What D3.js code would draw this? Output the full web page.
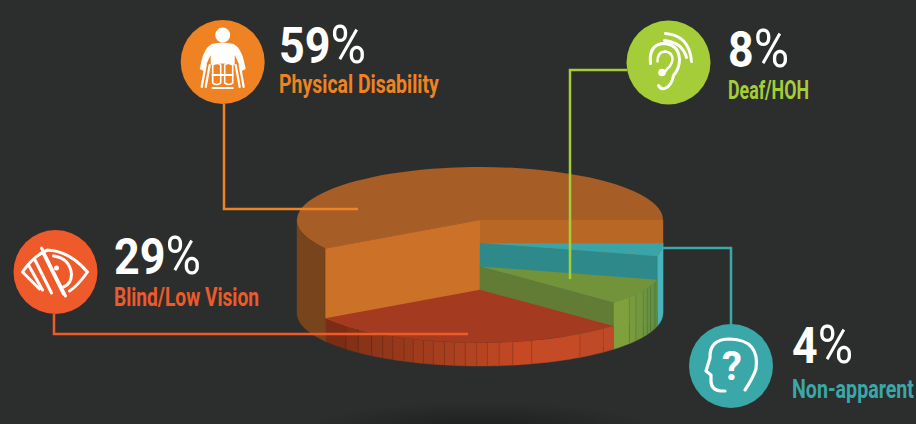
<!DOCTYPE html>
<html>
<head>
<meta charset="utf-8">
<script src="https://cdn.jsdelivr.net/npm/d3@7"></script>
<style>
html, body { margin: 0; padding: 0; background: #2c2e2e; }
svg { display: block; }
text { font-family: "Roboto", sans-serif; font-weight: bold; }
</style>
</head>
<body>
<svg id="chart" width="916" height="424"></svg>
<script>
// slices, in pie order going clockwise from the right hand side
var categories = ["Non-apparent", "Deaf/HOH", "Blind/Low Vision", "Physical Disability"];
var percents = [4, 8, 29, 59];
var percentLabels = ["4", "8", "29", "59"];
// height of each slice in quarters of the full cylinder
var levels = [3, 2, 1, 4];
var brightColors = ["#3aa7a9", "#a5cd39", "#ee5a29", "#ef8222"];
var topColors = ["#3aa5a8", "#73933a", "#a43a20", "#a65d26"];
var faceColors = ["#2e8a8a", "#637c35", null, "#cb7128"];

// rib angles of the facetted outer wall (degrees clockwise from 12 o'clock)
var redRibs = [137.6, 146.9, 163.6, 169.7, 174, 177.7, 181, 184.6, 188.1, 191.2, 194.8, 198, 201.4, 204.5, 208.5, 212.1, 216.3, 221.7, 227.2];
var greenRibs = [107.1, 111.3, 113.9, 116.9, 121.6, 125.3];

var svg = d3.select("#chart");
var cx = 480, rx = 183, ry = 53;
var yLevel = d3.scaleLinear().domain([0, 4]).range([313, 220]);

var defs = svg.append("defs");
var shadow = defs.append("radialGradient").attr("id", "shadow");
shadow.append("stop").attr("offset", "0%").attr("stop-color", "#1d1e1e");
shadow.append("stop").attr("offset", "100%").attr("stop-color", "#2c2e2e");

svg.append("rect").attr("width", 916).attr("height", 424).attr("fill", "#2c2e2e");
svg.append("ellipse").attr("cx", cx).attr("cy", 428).attr("rx", 175).attr("ry", 26).attr("fill", "url(#shadow)");

var pie = d3.pie().sort(null).value(d => d).startAngle(Math.PI / 2).endAngle(Math.PI / 2 + 2 * Math.PI);
var slices = pie(percents);
var rad = Math.PI / 180;

function px(a) { return cx + rx * Math.sin(a); }
function py(a, level) { return yLevel(level) - ry * Math.cos(a); }

var line = d3.line();
var arc = d3.arc().innerRadius(0).outerRadius(rx);

// one piece of outer wall between two angles
function wall(a0, a1, level, fill) {
    var n = Math.max(2, Math.ceil(Math.abs(a1 - a0) / (2 * rad)));
    var angles = d3.range(n + 1).map(i => a0 + (a1 - a0) * i / n);
    var pts = angles.map(a => [px(a), py(a, level)])
        .concat(angles.slice().reverse().map(a => [px(a), py(a, 0)]));
    svg.append("path").attr("d", line(pts) + "Z")
        .attr("fill", fill).attr("stroke", fill).attr("stroke-width", 0.4);
}

function face(a, level, fill, floor) {
    var pts = [[cx, yLevel(level)], [px(a), py(a, level)], [px(a), py(a, floor)], [cx, yLevel(floor)]];
    svg.append("path").attr("d", line(pts) + "Z").attr("fill", fill)
        .attr("stroke", fill).attr("stroke-width", 0.4);
}

function topFace(s, level, fill) {
    svg.append("path")
        .attr("d", arc(s))
        .attr("transform", "translate(" + cx + "," + yLevel(level) + ") scale(1," + ry / rx + ")")
        .attr("fill", fill);
}

function ribs(list, a0, a1, level, colorAt) {
    var edges = [a0].concat(list.map(d => d * rad)).concat([a1]);
    d3.pairs(edges).forEach(function (p) {
        wall(p[0], p[1], level, colorAt((p[0] + p[1]) / 2));
    });
    list.forEach(function (d) {
        var a = d * rad;
        svg.append("line")
            .attr("x1", px(a)).attr("x2", px(a))
            .attr("y1", py(a, level)).attr("y2", py(a, 0))
            .attr("stroke", "#000").attr("stroke-opacity", 0.14).attr("stroke-width", 0.8);
    });
}

// squeeze a text sideways until it is as wide as the reference
function fitText(sel, x, y, width) {
    var natural = sel.node().getComputedTextLength();
    sel.attr("transform", "translate(" + x + "," + y + ") scale(" + width / natural + ",1)");
}

var teal = slices[0], green = slices[1], red = slices[2], orange = slices[3];

// physical disability: back of the cylinder, drawn first
wall(red.endAngle, 270 * rad, levels[3], "#78441c");
topFace(orange, levels[3], topColors[3]);
face(orange.endAngle - 2 * Math.PI, levels[3], "#b86725", 0);
face(orange.startAngle, levels[3], faceColors[3], 0);

// non-apparent
wall(teal.startAngle, teal.endAngle, levels[0], "#48b4bc");
topFace(teal, levels[0], topColors[0]);
face(teal.endAngle, levels[0], faceColors[0], 0);

// deaf/hoh
var greenShade = d3.scaleLinear().domain([green.startAngle, green.endAngle]).range(["#5f8a40", "#84a43c"]);
ribs(greenRibs, green.startAngle, green.endAngle, levels[1], greenShade);
topFace(green, levels[1], topColors[1]);
face(green.endAngle, levels[1], faceColors[1], 0);

// blind/low vision
var redShade = d3.scaleLinear()
    .domain([red.startAngle, 165 * rad, 190 * rad, red.endAngle])
    .range(["#bd4a2a", "#c94a24", "#a8401f", "#762a14"]);
ribs(redRibs, red.startAngle, red.endAngle, levels[2], redShade);
topFace(red, levels[2], topColors[2]);

// leader lines
var leaders = [
    [[731, 325], [731, 248], [663, 248]],
    [[627, 70], [570, 70], [570, 279]],
    [[54, 314], [54, 334], [468, 334]],
    [[224, 104], [224, 209], [358, 209]]
];
leaders.forEach(function (l, i) {
    svg.append("path").attr("d", line(l)).attr("fill", "none")
        .attr("stroke", brightColors[i]).attr("stroke-width", 2.5);
});

// circles, icons and labels
var badges = [[731, 366], [668.5, 62.5], [55.5, 272], [222.7, 62]];
var textPos = [[792, 363, 61, 398, 122], [728, 67, 61, 99, 81], [114, 274, 87, 306, 145], [279, 63, 87, 93, 160]];

var icons = [drawHead, drawEar, drawEye, drawChair];
badges.forEach(function (b, i) {
    var g = svg.append("g").attr("transform", "translate(" + b[0] + "," + b[1] + ")");
    g.append("circle").attr("r", 42).attr("fill", brightColors[i]);
    var ig = g.append("g").attr("fill", "none").attr("stroke", "#fff")
        .attr("stroke-width", 3).attr("stroke-linecap", "round").attr("stroke-linejoin", "round");
    icons[i](ig);

    var t = textPos[i];
    var big = svg.append("text").attr("font-size", 50).attr("fill", "#fff");
    big.append("tspan").text(percentLabels[i]);
    // the percent sign is thinner than the digits
    big.append("tspan").attr("font-size", 54).style("font-weight", 400).text("%");
    fitText(big, t[0], t[1], t[2]);
    var label = svg.append("text").attr("font-size", 26).attr("fill", brightColors[i]).text(categories[i]);
    fitText(label, t[0], t[3], t[4]);
});

function drawChair(g) {
    g.append("circle").attr("cy", -27).attr("r", 7.5).attr("fill", "#fff").attr("stroke", "none");
    g.append("path").attr("fill", "#fff").attr("stroke", "none")
        .attr("d", "M-11,-18 Q0,-21 11,-18 Q18,-14 21,-2 L23,7 L19,9 L14,-3 L12,-7 L12,3 Q0,0 -12,3 L-12,-7 L-14,-3 L-19,9 L-23,7 L-21,-2 Q-18,-14 -11,-18Z");
    g.append("path").attr("stroke-width", 1.6)
        .attr("d", "M-10,3 Q-5,0 -2,3 L-2,21 Q-6,24 -10,21Z M10,3 Q5,0 2,3 L2,21 Q6,24 10,21Z");
    g.append("path").attr("stroke-width", 2.2)
        .attr("d", "M-17,3 L-21,25 M-13,3 L-17,25 M17,3 L21,25 M13,3 L17,25 M-10,13 L10,13 M-10,26 L10,26");
}

function drawEye(g) {
    g.append("path")
        .attr("d", "M-8,-22 Q14,-21 32,0 Q22,14 14,19 M-8,-22 Q-22,-16 -33,0 L-16,17");
    g.append("path")
        .attr("d", "M-13,-20 L8,22 M-21,-13 L-4,21 M-27,-7 L-13,18 M-14,-24 L10,24");
    g.append("path").attr("d", "M-2,-16 Q14,-14 16,2 Q16,12 8,15");
    g.append("circle").attr("cx", 1).attr("cy", -4).attr("r", 2.5).attr("fill", "#fff").attr("stroke", "none");
}

function drawEar(g) {
    g.append("path")
        .attr("d", "M-18,1 Q-20,-17 -6,-19 Q10,-19 11,-3 Q11,6 5,13 Q3,24 -4,26 Q-8,27 -10,23");
    g.append("path").attr("stroke-width", 2.4).attr("d", "M-11,-1 Q-11,-11 -3,-11 Q4,-10 4,-3 Q3,3 -1,6 Q-3,9 -5,11");
    g.append("circle").attr("cx", -6.5).attr("cy", 10).attr("r", 3.8).attr("fill", "#fff").attr("stroke", "none");
    g.append("path").attr("d", "M-3,-29 Q21,-27 23,-1");
    g.append("path").attr("d", "M-4,-22 Q14,-20 18,-5");
}

function drawHead(g) {
    g.append("path").attr("stroke-width", 3.2)
        .attr("d", "M14,24 Q22,12 25,3 Q29,-26 -1,-27 Q-22,-27 -21,-8 L-25,5 L-20,9 L-20,15 Q-20,24 -10,25 L-6,25");
    g.append("text").attr("x", 1).attr("y", 14).attr("text-anchor", "middle")
        .attr("font-size", 40).attr("fill", "#fff").attr("stroke", "none").text("?");
}
</script>
</body>
</html>
